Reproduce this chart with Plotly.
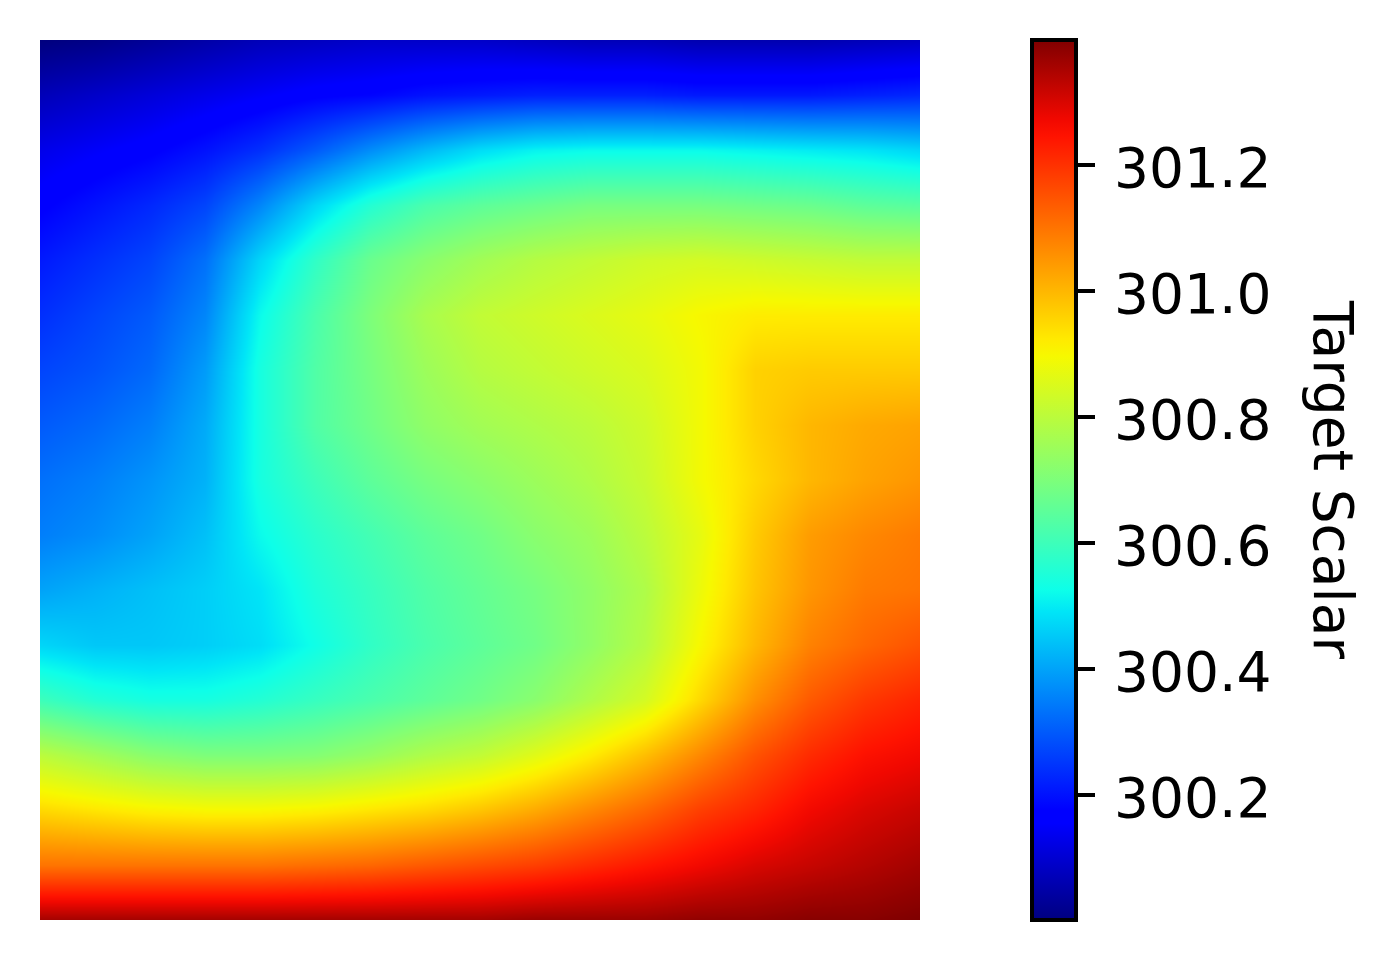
import plotly.graph_objects as go

# grid positions (every 1/16 of the image side), row 0 is the top edge
x_pos = list(range(17))
y_pos = list(range(17))

row_00 = [300.00,300.01,300.03,300.05,300.07,300.08,300.09,300.09,300.09,300.08,300.07,300.07,300.06,300.06,300.06,300.07,300.08]
row_01 = [300.07,300.09,300.11,300.13,300.15,300.17,300.18,300.20,300.21,300.22,300.22,300.22,300.21,300.21,300.21,300.22,300.23]
row_02 = [300.13,300.15,300.17,300.20,300.24,300.30,300.37,300.43,300.48,300.51,300.52,300.52,300.52,300.51,300.50,300.49,300.47]
row_03 = [300.17,300.20,300.23,300.27,300.36,300.47,300.56,300.62,300.65,300.67,300.69,300.69,300.69,300.68,300.67,300.65,300.64]
row_04 = [300.21,300.24,300.27,300.33,300.47,300.58,300.67,300.72,300.76,300.79,300.81,300.83,300.84,300.83,300.82,300.81,300.81]
row_05 = [300.24,300.27,300.30,300.36,300.52,300.62,300.70,300.77,300.81,300.83,300.85,300.87,300.90,300.92,300.92,300.92,300.92]
row_06 = [300.27,300.29,300.32,300.39,300.54,300.63,300.69,300.75,300.79,300.81,300.83,300.85,300.89,300.96,300.97,300.97,300.97]
row_07 = [300.30,300.32,300.35,300.41,300.54,300.63,300.68,300.73,300.76,300.78,300.80,300.83,300.89,300.96,301.00,301.02,301.03]
row_08 = [300.33,300.35,300.38,300.42,300.54,300.60,300.65,300.69,300.72,300.75,300.78,300.82,300.89,300.95,301.00,301.03,301.05]
row_09 = [300.35,300.37,300.40,300.44,300.52,300.57,300.61,300.65,300.68,300.72,300.75,300.80,300.87,300.97,301.04,301.07,301.09]
row_10 = [300.40,300.42,300.44,300.46,300.49,300.55,300.59,300.63,300.66,300.69,300.73,300.78,300.88,300.98,301.05,301.09,301.10]
row_11 = [300.47,300.45,300.45,300.46,300.48,300.53,300.58,300.62,300.65,300.68,300.73,300.79,300.90,301.00,301.08,301.12,301.15]
row_12 = [300.60,300.56,300.54,300.54,300.56,300.59,300.62,300.65,300.68,300.72,300.78,300.84,300.95,301.06,301.14,301.19,301.22]
row_13 = [300.80,300.76,300.72,300.70,300.70,300.71,300.74,300.78,300.81,300.86,300.92,300.99,301.07,301.15,301.21,301.25,301.27]
row_14 = [300.95,300.93,300.91,300.90,300.90,300.91,300.93,300.95,300.98,301.02,301.07,301.12,301.18,301.22,301.27,301.30,301.32]
row_15 = [301.10,301.10,301.10,301.10,301.10,301.11,301.12,301.14,301.16,301.18,301.21,301.24,301.27,301.30,301.32,301.34,301.36]
row_16 = [301.36,301.36,301.36,301.36,301.36,301.36,301.36,301.36,301.36,301.37,301.37,301.37,301.38,301.38,301.39,301.39,301.40]

z_values = [row_00, row_01, row_02, row_03, row_04, row_05, row_06, row_07, row_08,
            row_09, row_10, row_11, row_12, row_13, row_14, row_15, row_16]

tick_vals = [300.2, 300.4, 300.6, 300.8, 301.0, 301.2]
tick_text = ['300.2', '300.4', '300.6', '300.8', '301.0', '301.2']

z_min = 300.002
z_max = 301.398

# matplotlib jet
jet = [
    [0.0, '#000080'], [0.11, '#0000ff'], [0.125, '#0000ff'], [0.35, '#00e5f7'], [0.375, '#0dffe9'],
    [0.5, '#7dff7a'], [0.64, '#f6f900'], [0.66, '#ffea00'], [0.89, '#ff1300'], [0.91, '#f10800'], [1.0, '#800000'],
]

fig = go.Figure()

fig.add_trace(go.Heatmap(
    x=x_pos, y=y_pos, z=z_values,
    zmin=z_min, zmax=z_max,
    zsmooth='best',
    colorscale=jet,
    colorbar=dict(
        thickness=44, thicknessmode='pixels',
        len=880, lenmode='pixels',
        x=(1032 - 40) / 880, xanchor='left',
        y=0.5, yanchor='middle',
        xpad=0, ypad=0,
        outlinecolor='black', outlinewidth=4,
        ticks='outside', ticklen=17, tickwidth=4, tickcolor='black',
        tickvals=tick_vals, showticklabels=False,
    ),
))

# plotly puts colorbar labels too close to the ticks, so they are annotations
for val, label in zip(tick_vals, tick_text):
    fig.add_annotation(
        text=label,
        xref='paper', yref='paper',
        x=(1112 - 40) / 880, y=(val - z_min) / (z_max - z_min),
        xanchor='left', yanchor='middle', yshift=-3,
        showarrow=False,
        font=dict(family='DejaVu Sans', size=55, color='black'),
    )

# colorbar titles only rotate one way, so this one is an annotation too
fig.add_annotation(
    text='Target Scalar', textangle=90,
    xref='paper', yref='paper',
    x=(1333 - 40) / 880, y=(920 - 479) / 880,
    xanchor='center', yanchor='middle',
    showarrow=False,
    font=dict(family='DejaVu Sans', size=55, color='black'),
)

# the page body adds 8px on each side
fig.update_layout(
    width=1381, height=944,
    margin=dict(l=32, r=469, t=32, b=32, autoexpand=False),
    paper_bgcolor='white', plot_bgcolor='white',
    xaxis=dict(visible=False, range=[0, 16]),
    yaxis=dict(visible=False, range=[16, 0]),
)

fig.write_html("out.html")
